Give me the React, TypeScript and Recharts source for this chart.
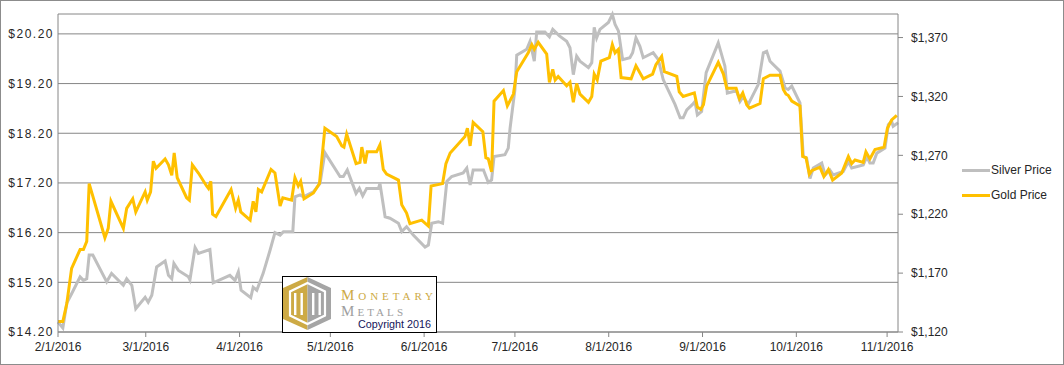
import { LineChart, Line, XAxis, YAxis, CartesianGrid } from "recharts";

// days counted from 2/1/2016
const silverDays = [
  0, 1.6, 2.9, 4.5, 7.3, 8.4, 9.5, 10.3, 11.5, 16.1,
  17.7, 21.6, 22.7, 24.4, 25.7, 28.8, 29.8, 31.0, 32.6, 35.4,
  36.5, 37.6, 38.3, 39.8, 43.1, 43.6, 45.3, 46.4, 50.2, 51.3,
  56.8, 58.5, 59.6, 60.5, 63.7, 64.5, 65.7, 67.8, 70.1, 71.7,
  73.4, 74.5, 77.6, 78.3, 80.0, 81.1, 84.4, 86.6, 88.2, 93.2,
  94.3, 95.6, 98.5, 99.6, 100.7, 102.0, 105.9, 106.4, 108.1, 109.7,
  112.5, 113.6, 115.2, 117.4, 121.3, 122.4, 123.5, 125.7, 127.1, 128.5,
  130.1, 133.9, 135.1, 136.2, 137.2, 140.6, 142.2, 143.3, 144.1, 147.7,
  148.8, 149.4, 151.0, 151.6, 154.9, 156.0, 157.4, 158.2, 160.9, 162.4,
  163.5, 165.7, 168.1, 169.2, 170.3, 171.4, 172.5, 175.3, 176.4, 177.2,
  178.0, 179.1, 181.9, 183.2, 184.1, 185.2, 186.6, 189.0, 189.9, 191.0,
  192.3, 193.4, 196.7, 198.4, 200.0, 203.9, 205.6, 206.6, 207.8, 209.7,
  210.5, 211.3, 212.7, 214.2, 218.2, 220.4, 221.2, 223.2, 224.3, 225.4,
  226.5, 228.1, 231.4, 233.1, 234.2, 235.3, 238.6, 240.3, 241.3, 242.5,
  245.2, 246.3, 247.4, 248.5, 249.6, 252.4, 253.5, 255.1, 256.2, 259.5,
  261.2, 262.3, 266.1, 267.3, 268.3, 269.4, 270.6, 273.3, 274.4, 275.5,
  276.0, 277.6,
];

const silverPrices = [
  14.40, 14.28, 14.78, 14.97, 15.31, 15.24, 15.27, 15.75, 15.75, 15.21,
  15.38, 15.14, 15.27, 15.14, 14.67, 14.90, 14.80, 14.94, 15.51, 15.63,
  15.34, 15.27, 15.58, 15.44, 15.31, 15.25, 15.90, 15.78, 15.86, 15.19,
  15.34, 15.24, 15.41, 15.04, 14.89, 15.10, 15.04, 15.38, 15.85, 16.20,
  16.15, 16.22, 16.22, 16.92, 16.96, 16.92, 17.02, 17.19, 17.81, 17.33,
  17.33, 17.46, 16.99, 17.09, 16.94, 17.09, 17.09, 17.19, 16.52, 16.49,
  16.39, 16.22, 16.32, 16.15, 15.91, 15.95, 16.39, 16.42, 16.39, 17.23,
  17.33, 17.40, 17.50, 17.16, 17.46, 17.46, 17.21, 17.26, 17.73, 17.77,
  17.90, 18.30, 19.08, 19.77, 19.89, 20.05, 19.65, 20.24, 20.24, 20.14,
  20.29, 20.16, 20.05, 19.92, 19.38, 19.75, 19.65, 19.52, 19.62, 20.33,
  20.12, 20.29, 20.43, 20.59, 20.39, 20.26, 19.68, 19.72, 19.82, 20.12,
  19.95, 19.72, 19.82, 19.68, 19.28, 18.78, 18.51, 18.51, 18.67, 18.78,
  18.84, 18.57, 18.64, 19.42, 20.02, 19.55, 19.01, 19.04, 19.04, 18.84,
  18.94, 18.78, 19.18, 19.82, 19.85, 19.65, 19.45, 19.11, 19.08, 19.15,
  18.81, 17.73, 17.70, 17.29, 17.50, 17.60, 17.36, 17.46, 17.36, 17.43,
  17.63, 17.50, 17.56, 17.73, 17.60, 17.60, 17.80, 17.90, 18.37, 18.44,
  18.34, 18.41,
];

const goldDays = [
  0, 1.6, 2.9, 4.5, 7.3, 8.4, 9.5, 10.3, 15.5, 16.6,
  17.5, 21.6, 22.7, 24.7, 25.7, 28.8, 29.5, 30.6, 31.5, 32.4,
  35.4, 36.5, 37.6, 38.4, 39.4, 42.5, 43.4, 44.4, 46.4, 49.1,
  49.7, 50.5, 51.1, 52.2, 57.2, 58.7, 59.6, 60.4, 63.5, 64.5,
  65.4, 66.2, 67.3, 70.4, 71.7, 73.4, 74.3, 77.2, 78.3, 79.4,
  80.2, 81.3, 84.4, 86.4, 88.2, 92.1, 93.8, 94.5, 95.4, 98.5,
  99.8, 100.4, 101.5, 102.2, 105.3, 106.4, 107.5, 108.6, 112.5, 113.6,
  115.2, 116.3, 120.2, 122.4, 123.3, 127.1, 128.2, 129.6, 134.5, 135.3,
  136.2, 137.2, 140.4, 141.4, 142.2, 143.3, 144.1, 147.2, 148.5, 150.5,
  151.6, 155.4, 156.6, 157.4, 158.7, 161.5, 162.4, 163.5, 164.3, 165.3,
  168.1, 169.2, 170.3, 171.4, 172.5, 175.3, 176.4, 177.2, 178.2, 179.4,
  182.2, 183.2, 184.1, 185.2, 186.1, 189.4, 191.0, 193.4, 196.5, 197.6,
  199.5, 200.4, 204.5, 205.3, 206.6, 210.3, 211.3, 212.4, 213.3, 214.4,
  218.2, 219.9, 221.0, 224.1, 225.2, 226.3, 227.6, 228.5, 232.0, 233.1,
  235.3, 238.6, 239.7, 240.6, 241.3, 242.5, 245.2, 246.1, 247.2, 248.3,
  249.1, 251.8, 253.1, 254.6, 256.0, 259.0, 261.2, 262.3, 263.4, 266.1,
  267.0, 268.3, 270.0, 273.0, 274.1, 275.5, 277.2,
];

const goldPrices = [
  1129, 1129, 1144, 1174, 1190, 1190, 1197, 1246, 1200, 1208,
  1231, 1208, 1225, 1233, 1222, 1239, 1232, 1239, 1265, 1259,
  1267, 1262, 1253, 1272, 1251, 1234, 1232, 1262, 1255, 1244,
  1242, 1248, 1220, 1218, 1241, 1225, 1232, 1222, 1215, 1231,
  1222, 1241, 1239, 1258, 1255, 1227, 1234, 1232, 1251, 1244,
  1248, 1233, 1238, 1246, 1293, 1286, 1278, 1277, 1288, 1263,
  1264, 1277, 1263, 1273, 1273, 1279, 1258, 1254, 1249, 1228,
  1221, 1212, 1215, 1210, 1244, 1246, 1263, 1272, 1286, 1293,
  1278, 1298, 1290, 1268, 1267, 1256, 1316, 1325, 1312, 1322,
  1341, 1357, 1364, 1360, 1366, 1356, 1332, 1343, 1334, 1337,
  1329, 1332, 1315, 1331, 1322, 1315, 1320, 1339, 1334, 1350,
  1353, 1364, 1357, 1360, 1336, 1335, 1346, 1335, 1339, 1347,
  1354, 1341, 1337, 1324, 1320, 1323, 1311, 1309, 1313, 1329,
  1349, 1339, 1327, 1327, 1318, 1323, 1313, 1310, 1314, 1335,
  1338, 1338, 1326, 1322, 1321, 1316, 1312, 1269, 1268, 1254,
  1257, 1260, 1252, 1258, 1249, 1255, 1269, 1263, 1266, 1264,
  1273, 1267, 1275, 1277, 1293, 1300, 1304,
];

const monthTicks = [0, 29, 60, 90, 121, 151, 182, 213, 244, 274];
const monthLabels = [
  "2/1/2016", "3/1/2016", "4/1/2016", "5/1/2016", "6/1/2016",
  "7/1/2016", "8/1/2016", "9/1/2016", "10/1/2016", "11/1/2016",
];
const silverTicks = [14.2, 15.2, 16.2, 17.2, 18.2, 19.2, 20.2];
const goldTicks = [1120, 1170, 1220, 1270, 1320, 1370];

const SILVER = "#BFBFBF";
const GOLD = "#FFC000";
const AXIS = "#868686";
const FONT = "'Liberation Sans', Arial, sans-serif";
const SERIF = "'Liberation Serif', 'DejaVu Serif', serif";

const silverData = silverDays.map((d, i) => ({ day: d, price: silverPrices[i] }));
const goldData = goldDays.map((d, i) => ({ day: d, price: goldPrices[i] }));

function Logo() {
  return (
    <svg width={162} height={62} style={{ position: "absolute", left: 281, top: 275 }}>
      <rect x={1.5} y={1.5} width={154} height={56} fill="#fff" stroke="#000" />
      <g transform="translate(2,2)">
        {/* hexagon mark */}
        <polygon points="24.5,0 24.5,53 0,42 0,11" fill="#CDAA45" />
        <polygon points="24.5,0 48,11 48,42 24.5,53" fill="#A5A5A5" />
        <polygon
          points="24.5,6 42,14.5 42,38.5 24.5,47 7,38.5 7,14.5"
          fill="none"
          stroke="#fff"
          strokeWidth={2.2}
        />
        {[11, 17.5, 29, 35.5].map((x) => (
          <rect key={x} x={x} y={16} width={2.4} height={22} fill="#fff" />
        ))}
        <text
          x={58}
          y={23}
          fill="#CDAA45"
          fontFamily={SERIF}
          fontSize={15}
          textLength={92}
          lengthAdjust="spacing"
          style={{ fontVariant: "small-caps" }}
        >
          Monetary
        </text>
        <text
          x={58}
          y={38.5}
          fill="#9E9E9E"
          fontFamily={SERIF}
          fontSize={15}
          textLength={62}
          lengthAdjust="spacing"
          style={{ fontVariant: "small-caps" }}
        >
          Metals
        </text>
        <text
          x={75}
          y={50.5}
          fill="#14145A"
          fontFamily={FONT}
          fontSize={11}
          textLength={73}
          lengthAdjust="spacingAndGlyphs"
        >
          Copyright 2016
        </text>
      </g>
    </svg>
  );
}

function LegendBox() {
  const items = [
    { name: "Silver Price", color: SILVER, y: 170 },
    { name: "Gold Price", color: GOLD, y: 195 },
  ];
  return (
    <>
      {items.map((it) => (
        <div
          key={it.name}
          style={{ position: "absolute", left: 962, top: it.y - 8, height: 16, display: "flex", alignItems: "center" }}
        >
          <div style={{ width: 28, height: 3, background: it.color }} />
          <span style={{ fontFamily: FONT, fontSize: 12, color: "#262626", marginLeft: 1 }}>{it.name}</span>
        </div>
      ))}
    </>
  );
}

export default function App() {
  return (
    <div style={{ position: "absolute", left: 0, top: 0, width: 1064, height: 365, background: "#fff" }}>
      <LineChart width={1064} height={365} margin={{ top: 14, right: 106, bottom: 3, left: 8 }}>
        <CartesianGrid yAxisId="l" vertical={false} stroke={AXIS} />
        <XAxis
          type="number"
          dataKey="day"
          domain={[0, 277.6]}
          ticks={monthTicks}
          interval={0}
          tickFormatter={(v: number) => monthLabels[monthTicks.indexOf(v)]}
          height={30}
          stroke={AXIS}
          tickSize={5}
          tickMargin={5}
          tick={{ fill: "#262626", fontSize: 12, fontFamily: FONT }}
        />
        <YAxis
          yAxisId="l"
          domain={[14.2, 20.6]}
          ticks={silverTicks}
          interval={0}
          width={50}
          stroke={AXIS}
          tickLine={false}
          tickSize={0}
          tickMargin={4}
          tickFormatter={(v: number) => `$${v.toFixed(2)}`}
          tick={{ fill: "#262626", fontSize: 12, fontFamily: FONT, letterSpacing: 1.5 }}
        />
        <YAxis
          yAxisId="r"
          orientation="right"
          domain={[1120, 1390]}
          ticks={goldTicks}
          interval={0}
          width={60}
          stroke={AXIS}
          tickSize={5}
          tickMargin={8}
          tickFormatter={(v: number) => `$${v.toLocaleString("en-US")}`}
          tick={{ fill: "#262626", fontSize: 12, fontFamily: FONT }}
        />
        <Line
          yAxisId="l"
          data={silverData}
          dataKey="price"
          name="Silver Price"
          stroke={SILVER}
          strokeWidth={3}
          dot={false}
          type="linear"
          isAnimationActive={false}
        />
        <Line
          yAxisId="r"
          data={goldData}
          dataKey="price"
          name="Gold Price"
          stroke={GOLD}
          strokeWidth={3}
          dot={false}
          type="linear"
          isAnimationActive={false}
        />
      </LineChart>
      <LegendBox />
      <Logo />
      <div
        style={{
          position: "absolute",
          left: 0,
          top: 0,
          width: 1064,
          height: 365,
          boxSizing: "border-box",
          border: "1px solid #8C8C8C",
          pointerEvents: "none",
        }}
      />
    </div>
  );
}
